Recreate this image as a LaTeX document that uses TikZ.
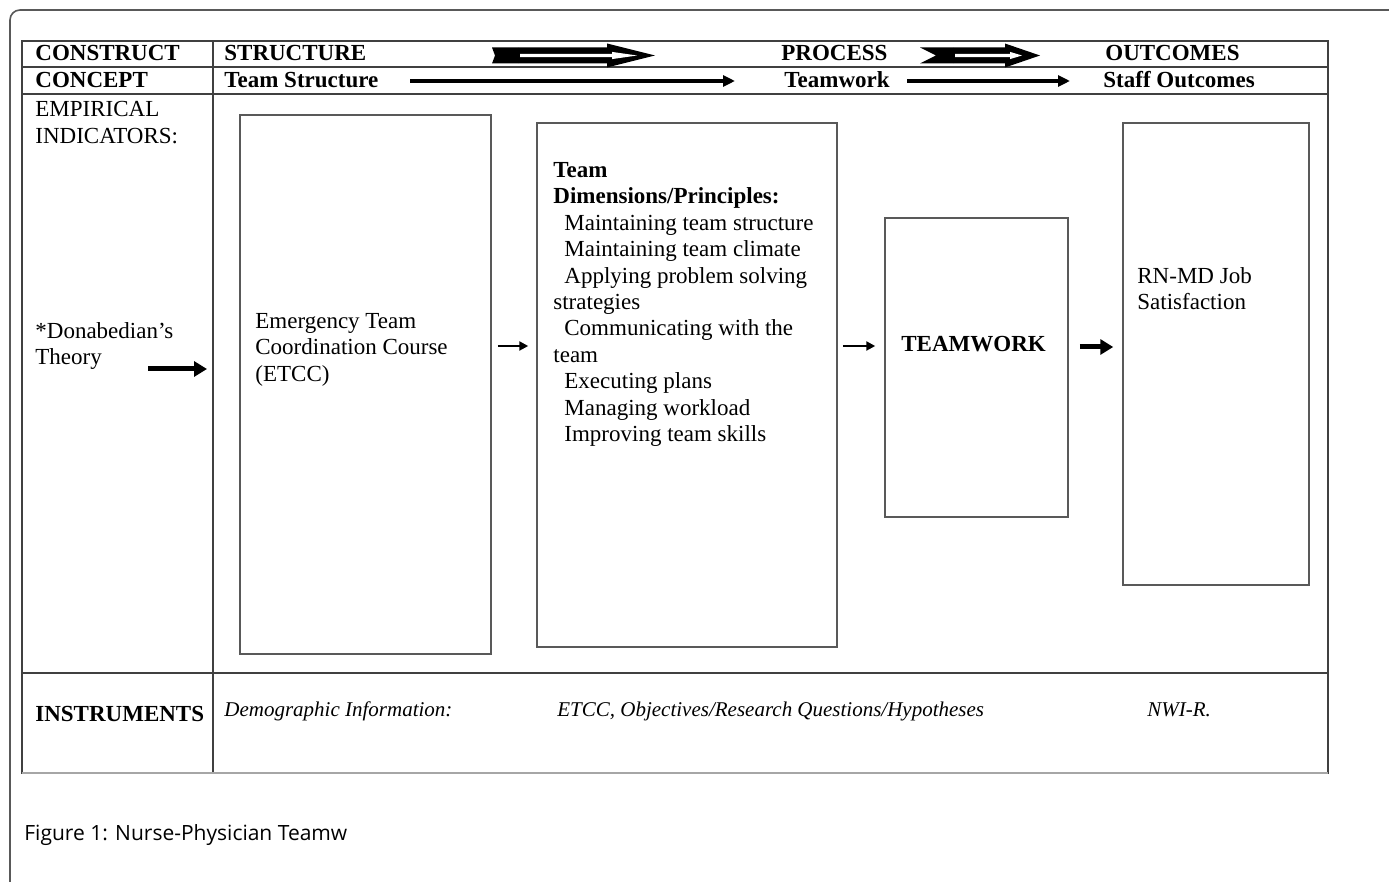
\documentclass[tikz,border=0pt]{standalone}
\usepackage{fontspec}
\setmainfont{Liberation Serif}
\newfontfamily\capfont{Open Sans}
\usepackage{tikz}
\usetikzlibrary{calc}
\usetikzlibrary{positioning}
\usetikzlibrary{arrows.meta}
\tikzset{>=Stealth,
  gridline/.style = {draw=black!75,line width=0.8pt},
  panel/.style = {draw=black!65,line width=0.75pt,inner sep=0pt},
  txt/.style = {inner sep=0pt,anchor=base west,font=\fontsize{11.5}{13.2}\selectfont},
  heading/.style = {txt,font=\fontsize{11.5}{13.2}\selectfont\bfseries},
  instr/.style = {txt,font=\fontsize{10.5}{12}\selectfont\itshape},
  thin arrow/.style = {-{Triangle[length=4.5pt,width=4.5pt]},line width=1.1pt},
  mid arrow/.style = {-{Triangle[length=6pt,width=5.5pt]},line width=1.8pt},
  thick arrow/.style = {-{Triangle[length=6.5pt,width=7.5pt]},line width=2.5pt},
  pics/hollow arrow/.style n args={4}{code={
    \fill (0,-8) -- (#2,-8) -- (#2,8) -- (0,8) -- (#4,0) -- cycle;
    \fill (#2,-8) -- (#3,-8) -- (#3,-12) -- (#1,0) -- (#3,12) -- (#3,8) -- (#2,8) -- cycle;
    \fill[white] (#2+2,-1.6) -- (#3+5,-1.6) -- (#3+5,-3.6) -- (#1-18,0) -- (#3+5,3.6) -- (#3+5,1.6) -- (#2+2,1.6) -- cycle;
  }}
}

\begin{document}
\begin{tikzpicture}[x=0.5pt,y=-0.5pt]
  \useasboundingbox (0,0) rectangle (1389,882);
  \draw[black!65,line width=0.8pt,rounded corners=5pt] (1389,10) -- (10,10) -- (10,882);

  \draw[gridline] (22,41) rectangle (1328,773);
  \draw[gridline] (22,67) -- (1328,67);
  \draw[gridline] (22,94) -- (1328,94);
  \draw[gridline] (22,673) -- (1328,673);
  \draw[gridline] (213,41) -- (213,773);
  \draw[black!35,line width=1.2pt] (22,773) -- (1328,773);

  \node[heading] (construct) at (35,61) {CONSTRUCT};
  \node[heading] (structure) at (224,61) {STRUCTURE};
  \node[heading] (process) at (781,61) {PROCESS};
  \node[heading] (outcomes) at (1105,61) {OUTCOMES};
  \node[heading] (concept) at (35,88) {CONCEPT};
  \node[heading] (teamstruct) at (224,88) {Team Structure};
  \node[heading] (teamwork) at (784,88) {Teamwork};
  \node[heading] (staffout) at (1103,88) {Staff Outcomes};

  \pic at (492,55.5) {hollow arrow={163}{26}{115}{3}};
  \pic at (920,55.5) {hollow arrow={120}{33}{85}{16}};
  \coordinate (tsend) at (410,81);
  \coordinate (twbeg) at (735,81);
  \coordinate (twend) at (907,81);
  \coordinate (sobeg) at (1070,81);
  \draw[mid arrow] (tsend) -- (twbeg);
  \draw[mid arrow] (twend) -- (sobeg);

  \node[txt,align=left,anchor=north west] (empirical) at (35,101) {EMPIRICAL\\INDICATORS:};
  \node[txt,align=left,anchor=north west] (donab) at (35,322) {*Donabedian’s\\Theory};
  \coordinate (dbeg) at (148,369);
  \coordinate (dend) at (207,369);
  \draw[thick arrow] (dbeg) -- (dend);

  \node[panel,minimum width=125.5pt,minimum height=269.5pt] (etcc) at (365.5,384.5) {};
  \node[panel,minimum width=150pt,minimum height=262pt] (dims) at (687,385) {};
  \node[panel,minimum width=91.5pt,minimum height=149.5pt] (teamw) at (976.5,367.5) {};
  \node[panel,minimum width=93pt,minimum height=231pt] (satis) at (1216,354) {};

  \node[txt,align=left,anchor=north west] (etcctext) at (255,313)
    {Emergency Team\\Coordination Course\\(ETCC)};
  \node[txt,align=left,anchor=north west] (dimstext) at (553,162)
    {\textbf{Team}\\\textbf{Dimensions/Principles:}\\
     \hspace*{5.5pt}Maintaining team structure\\
     \hspace*{5.5pt}Maintaining team climate\\
     \hspace*{5.5pt}Applying problem solving\\
     strategies\\
     \hspace*{5.5pt}Communicating with the\\
     team\\
     \hspace*{5.5pt}Executing plans\\
     \hspace*{5.5pt}Managing workload\\
     \hspace*{5.5pt}Improving team skills};
  \node[heading] (teamwtext) at (901,352) {TEAMWORK};
  \node[txt,align=left,anchor=north west] (satistext) at (1137,267)
    {RN-MD Job\\Satisfaction};

  \coordinate (lvl) at (0,346);
  \draw[thin arrow,shorten <=3pt,shorten >=4pt] (etcc.east |- lvl) -- (dims.west |- lvl);
  \draw[thin arrow,shorten <=2.5pt,shorten >=4.5pt] (dims.east |- lvl) -- (teamw.west |- lvl);
  \draw[thick arrow,shorten <=5.5pt,shorten >=4.5pt] ([yshift=-0.5pt]teamw.east |- lvl) -- ([yshift=-0.5pt]satis.west |- lvl);

  \node[heading] (instruments) at (35,721) {INSTRUMENTS};
  \node[instr] (demog) at (224,717) {Demographic Information:};
  \node[instr] (etccobj) at (557,717) {ETCC, Objectives/Research Questions/Hypotheses};
  \node[instr] (nwir) at (1147,717) {NWI-R.};

  \node[txt,font=\capfont\fontsize{10.5}{12}\selectfont] (caption) at (24,840) {Figure 1: Nurse-Physician Teamw};
\end{tikzpicture}
\end{document}
